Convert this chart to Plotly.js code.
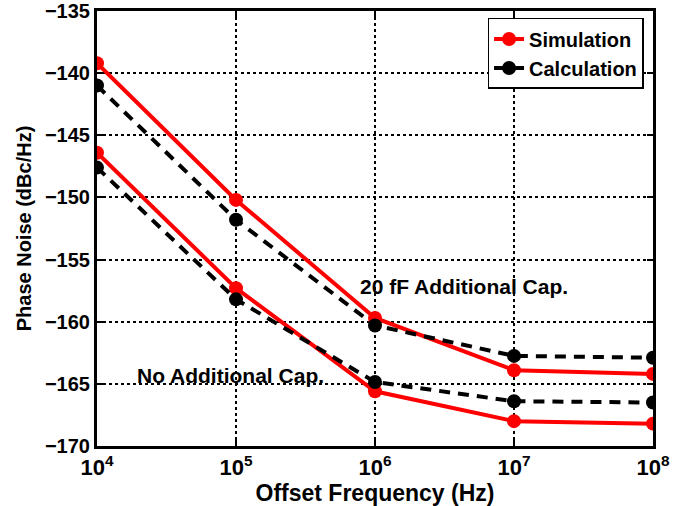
<!DOCTYPE html>
<html><head><meta charset="utf-8">
<script src="https://cdn.plot.ly/plotly-3.0.1.min.js"></script>
<style>body{margin:0;background:#fff}#c{width:685px;height:506px}</style>
</head><body><div id="c"></div>
<script>
const freq = [1e4, 1e5, 1e6, 1e7, 1e8];
const simWithCap = [-139.2, -150.2, -159.7, -163.9, -164.2];
const calcWithCap = [-141.0, -151.8, -160.3, -162.75, -162.9];
const simNoCap = [-146.4, -157.3, -165.6, -168.0, -168.2];
const calcNoCap = [-147.6, -158.2, -164.85, -166.4, -166.5];
const xTickVals = [1e4, 1e5, 1e6, 1e7, 1e8];
const xTickText = ['10<sup>4</sup>', '10<sup>5</sup>', '10<sup>6</sup>', '10<sup>7</sup>', '10<sup>8</sup>'];
const yTickVals = [-170, -165, -160, -155, -150, -145, -140, -135];
const yTickText = yTickVals.map(v => '\u2212' + Math.abs(v));

const F = 'Liberation Sans Narrow, Arial Narrow, Liberation Sans, Arial, sans-serif';
const S = 'Liberation Sans, Arial, sans-serif';
const simStyle = {mode: 'lines+markers', line: {color: '#ff0000', width: 4}, marker: {color: '#ff0000', size: 14}};
const calcStyle = {mode: 'lines+markers', line: {color: '#000000', width: 4, dash: '11px,8px'}, marker: {color: '#000000', size: 14}};

const data = [
  Object.assign({x: freq, y: simWithCap, name: 'Simulation', showlegend: true}, simStyle),
  Object.assign({x: freq, y: calcWithCap, name: 'Calculation', showlegend: true}, calcStyle),
  Object.assign({x: freq, y: simNoCap, name: 'Simulation', showlegend: false}, simStyle),
  Object.assign({x: freq, y: calcNoCap, name: 'Calculation', showlegend: false}, calcStyle)
];

const layout = {
  width: 685, height: 506,
  margin: {l: 97, r: 32, t: 11, b: 60},
  paper_bgcolor: '#fff', plot_bgcolor: '#fff',
  font: {family: S, color: '#000', size: 17},
  xaxis: {
    type: 'log', range: [4, 8],
    tickvals: xTickVals, ticktext: xTickText,
    tickfont: {family: F, size: 22, color: '#000', weight: 700},
    showgrid: true, gridcolor: '#000', griddash: 'dot', gridwidth: 1.5,
    showline: true, linecolor: '#000', linewidth: 3, mirror: 'ticks',
    ticks: 'inside', ticklen: 6, tickwidth: 2, tickcolor: '#000',
    zeroline: false,
    title: {text: 'Offset Frequency (Hz)', font: {family: F, size: 23, color: '#000', weight: 700}, standoff: 2}
  },
  yaxis: {
    range: [-170, -135],
    tickvals: yTickVals, ticktext: yTickText,
    tickfont: {family: S, size: 20, color: '#000', weight: 700},
    showgrid: true, gridcolor: '#000', griddash: 'dot', gridwidth: 1.5,
    showline: true, linecolor: '#000', linewidth: 3, mirror: 'ticks',
    ticks: 'inside', ticklen: 6, tickwidth: 2, tickcolor: '#000',
    zeroline: false,
    title: {text: 'Phase Noise (dBc/Hz)', font: {family: S, size: 20, color: '#000', weight: 700}, standoff: 8}
  },
  legend: {
    x: 0.983, y: 0.984, xanchor: 'right', yanchor: 'top',
    bgcolor: '#fff', bordercolor: '#000', borderwidth: 1.5,
    font: {family: S, size: 20, color: '#000', weight: 700},
    tracegroupgap: 0
  },
  annotations: [
    {x: 6.64, y: -157.2, xref: 'x', yref: 'y', text: '20 fF Additional Cap.', showarrow: false,
     font: {family: S, size: 21, color: '#000', weight: 700}},
    {x: 4.957, y: -164.3, xref: 'x', yref: 'y', text: 'No Additional Cap.', showarrow: false,
     font: {family: S, size: 21, color: '#000', weight: 700}}
  ]
};

Plotly.newPlot('c', data, layout, {displayModeBar: false});
</script>
</body></html>
